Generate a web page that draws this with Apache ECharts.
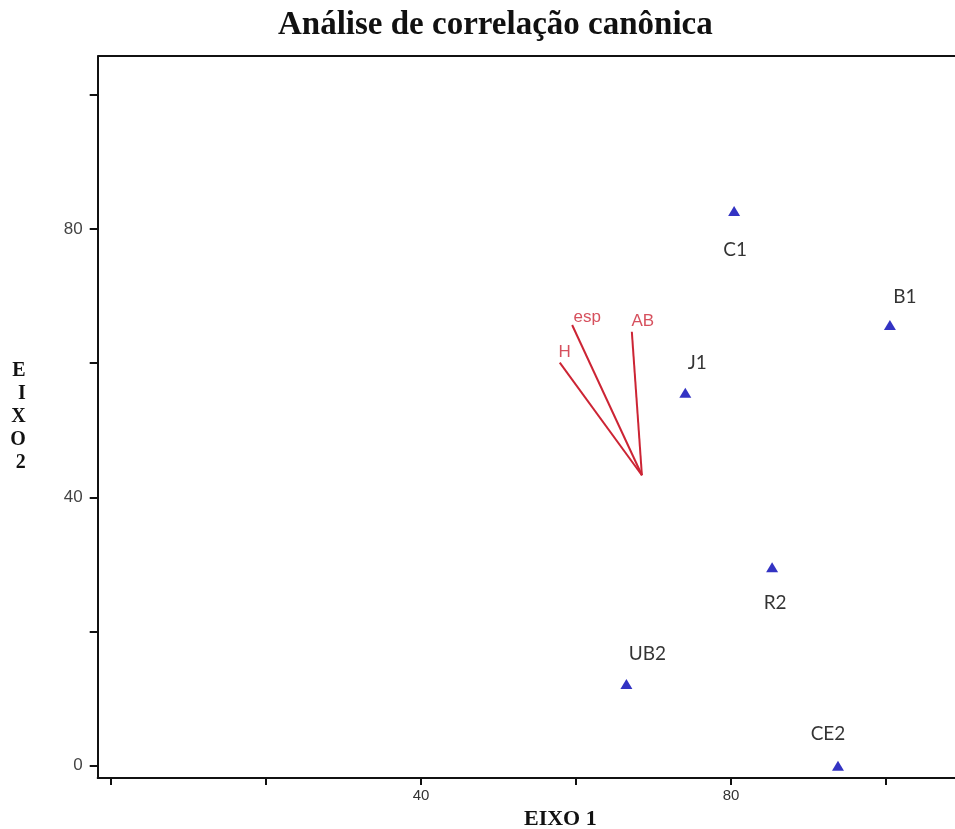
<!DOCTYPE html>
<html><head><meta charset="utf-8">
<script src="https://cdn.jsdelivr.net/npm/echarts@6/dist/echarts.min.js"></script>
<style>html,body{margin:0;padding:0;background:#fff}#c{width:955px;height:829px}</style>
</head><body><div id="c"></div>
<script>
// ---- data ----
const siteNames = ['C1', 'B1', 'J1', 'R2', 'UB2', 'CE2'];
const siteX = [80.4, 100.5, 74.1, 85.3, 66.5, 93.8];
const siteY = [82.7, 65.7, 55.6, 29.6, 12.2, 0.0];
const vectorNames = ['H', 'esp', 'AB'];
const vectorOrigin = [68.5, 43.3];
const vectorEndX = [57.9, 59.5, 67.2];
const vectorEndY = [60.1, 65.7, 64.7];
const tickValues = [0, 20, 40, 60, 80, 100];
const xLabelValues = [40, 80];
const yLabelValues = [0, 40, 80];

// ---- layout / style ----
const siteLabelOffset = {C1:[1,39], B1:[15,-28], J1:[12,-30], R2:[3,36], UB2:[21,-30], CE2:[-10,-32]};
const vectorLabelOffset = {H:[5,-10], esp:[15,-8], AB:[11,-10]};
const red = '#cc2434';
const X_MIN = -1.72, X_MAX = 108.9, Y_MIN = -1.83, Y_MAX = 105.8;

const chart = echarts.init(document.getElementById('c'));
const vecSeries = vectorNames.map((n, i) => ({
  type: 'line', silent: true, symbol: 'none', animation: false,
  lineStyle: {color: red, width: 2},
  data: [[vectorOrigin[0], vectorOrigin[1]], [vectorEndX[i], vectorEndY[i]]]
}));
chart.setOption({
  animation: false,
  title: {text: 'Análise de correlação canônica', left: 273, top: 4,
    textStyle: {fontFamily: 'Liberation Serif', fontWeight: 'bold', fontSize: 33, color: '#111'}},
  grid: {left: 97.7, top: 56, right: 0, bottom: 51, show: false, outerBoundsMode: 'none', containLabel: false},
  xAxis: {type: 'value', min: X_MIN, max: X_MAX,
    name: 'EIXO 1', nameLocation: 'middle', nameGap: 28,
    nameTextStyle: {fontFamily: 'Liberation Serif', fontWeight: 'bold', fontSize: 22, color: '#111', padding: [0, 0, 0, 68]},
    axisLine: {show: true, onZero: false, lineStyle: {color: '#111', width: 2}},
    axisTick: {show: true, length: 7, lineStyle: {color: '#111', width: 2}, customValues: tickValues},
    axisLabel: {customValues: xLabelValues, color: '#333', fontSize: 15, fontFamily: 'Liberation Sans', margin: 10},
    splitLine: {show: false}},
  yAxis: {type: 'value', min: Y_MIN, max: Y_MAX,
    name: 'E\nI\nX\nO\n2', nameLocation: 'middle', nameGap: 72, nameRotate: 0,
    nameTextStyle: {fontFamily: 'Liberation Serif', fontWeight: 'bold', fontSize: 20, lineHeight: 23, color: '#111', padding: [0, 0, 36, 0]},
    axisLine: {show: true, onZero: false, lineStyle: {color: '#111', width: 2}},
    axisTick: {show: true, length: 8, lineStyle: {color: '#111', width: 2}, customValues: tickValues},
    axisLabel: {customValues: yLabelValues, color: '#444', fontSize: 17, fontFamily: 'Liberation Sans', margin: 15},
    splitLine: {show: false}},
  series: [
    ...vecSeries,
    {type: 'scatter', symbolSize: 0, silent: true,
      data: vectorNames.map((n, i) => ({value: [vectorEndX[i], vectorEndY[i]], name: n,
        label: {show: true, position: 'inside', offset: vectorLabelOffset[n], formatter: n,
          color: red, fontSize: 17, fontFamily: 'Liberation Sans'}}))},
    {type: 'scatter', symbol: 'triangle', symbolSize: [12, 10],
      itemStyle: {color: '#0000b4'},
      data: siteNames.map((n, i) => ({value: [siteX[i], siteY[i]], name: n,
        label: {show: true, position: 'inside', offset: siteLabelOffset[n], formatter: n,
          color: '#000', fontSize: 19, fontFamily: 'Lato'}}))}
  ]
});
// top frame line drawn along the grid's top edge using the axis scale
const topY = chart.convertToPixel({yAxisIndex: 0}, Y_MAX);
const lx = chart.convertToPixel({xAxisIndex: 0}, X_MIN);
chart.setOption({graphic: [{type: 'line', shape: {x1: lx, y1: topY, x2: 960, y2: topY}, style: {stroke: '#111', lineWidth: 2}}]});
</script></body></html>
